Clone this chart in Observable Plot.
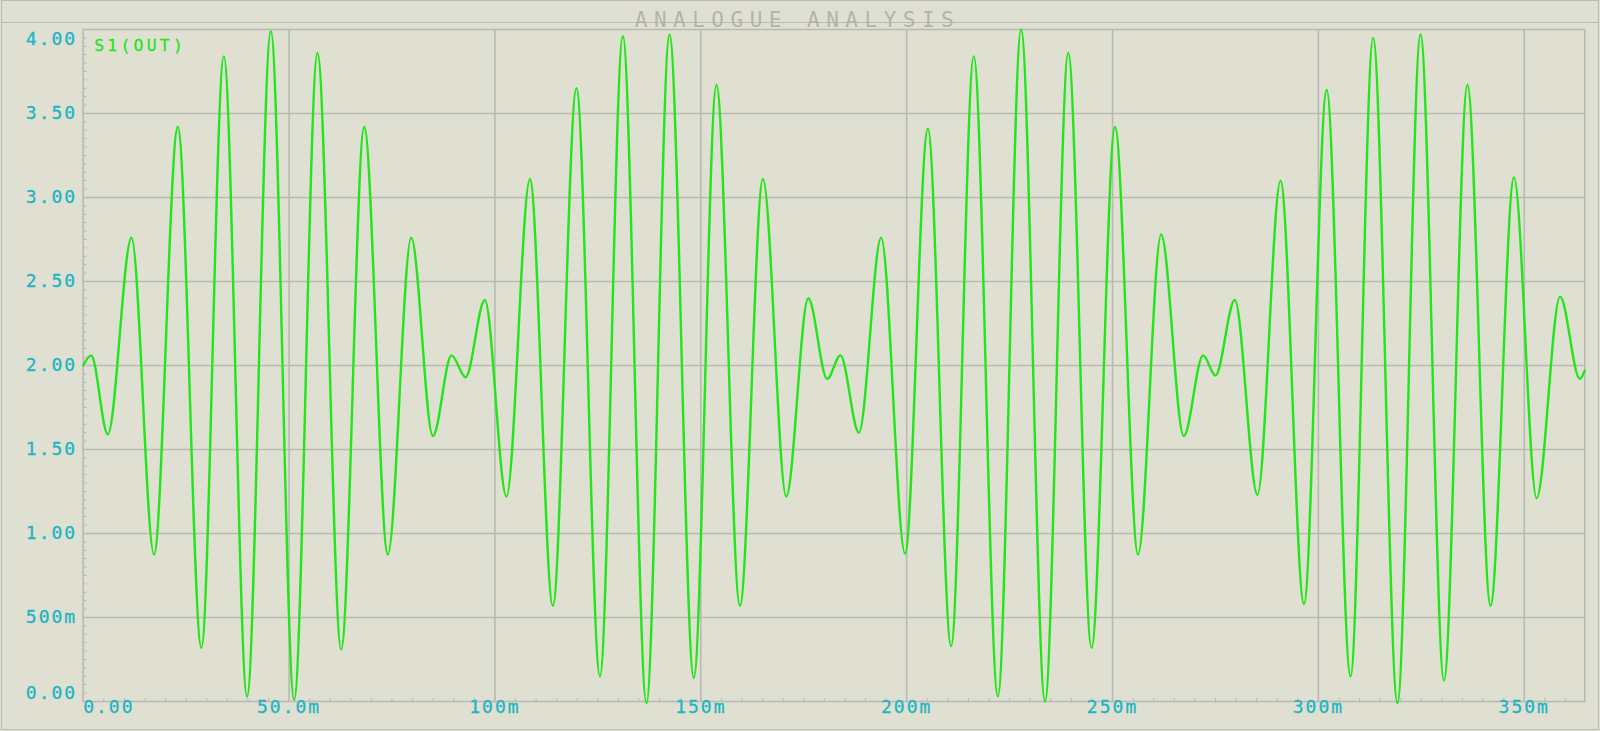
<!DOCTYPE html>
<html>
<head>
<meta charset="utf-8">
<script src="https://cdn.jsdelivr.net/npm/d3@7"></script>
<script src="https://cdn.jsdelivr.net/npm/@observablehq/plot@0.6"></script>
<style>
  html, body { margin: 0; padding: 0; background: #e0e0d2; }
  #wrap { position: relative; width: 1600px; height: 731px; overflow: hidden; background: #e0e0d2; }
  #border { position: absolute; left: 1px; top: 0px; width: 1598px; height: 730px; box-sizing: border-box; border: 1.5px solid #bcbcb7; }
  #band { position: absolute; left: 1px; width: 1598px; top: 22px; height: 0; border-top: 1.5px solid #bcbcb7; }
  #chart { position: absolute; left: 0; top: 0; }
  #chart svg text { letter-spacing: 2px; }
</style>
</head>
<body>
<div id="wrap"><div id="border"></div><div id="band"></div><div id="chart"></div></div>
<script>
// ---- Data (extrema of the trace) ----
const timeMs = [0, 1.94, 5.98, 11.73, 17.2, 22.98, 28.7, 34.16, 39.8, 45.57, 51.24, 56.9, 62.66, 68.25, 73.99,
  79.67, 84.93, 89.46, 92.86, 97.55, 102.8, 108.5, 114.07, 119.8, 125.5, 131.07, 136.8, 142.4, 148.3, 153.8,
  159.5, 165.1, 170.75, 176.1, 180.7, 183.9, 188.4, 193.8, 199.6, 205.15, 210.8, 216.3, 222.15, 227.8, 233.6,
  239.25, 244.9, 250.6, 256.2, 261.8, 267.3, 272.0, 275.0, 279.7, 285.2, 290.8, 296.5, 302.0, 307.8, 313.3,
  319.2, 324.8, 330.5, 336.2, 341.8, 347.5, 353.0, 358.7, 363.5, 364.7];
const voltage = [2.00, 2.06, 1.59, 2.76, 0.875, 3.42, 0.32, 3.84, 0.03, 3.99, 0.01, 3.86, 0.31, 3.42, 0.875,
  2.76, 1.58, 2.06, 1.93, 2.39, 1.22, 3.11, 0.57, 3.65, 0.15, 3.96, -0.01, 3.97, 0.14, 3.67,
  0.57, 3.11, 1.22, 2.40, 1.92, 2.06, 1.60, 2.76, 0.88, 3.41, 0.33, 3.84, 0.03, 4.0, 0.0,
  3.86, 0.32, 3.42, 0.875, 2.78, 1.58, 2.06, 1.94, 2.39, 1.23, 3.10, 0.58, 3.64, 0.15, 3.95,
  -0.01, 3.97, 0.125, 3.67, 0.57, 3.12, 1.21, 2.41, 1.92, 1.97];

const xTicks = [0, 50, 100, 150, 200, 250, 300, 350];
const xTickLabels = ["0.00", "50.0m", "100m", "150m", "200m", "250m", "300m", "350m"];
const yTicks = [0, 0.5, 1, 1.5, 2, 2.5, 3, 3.5, 4];
const yTickLabels = ["0.00", "500m", "1.00", "1.50", "2.00", "2.50", "3.00", "3.50", "4.00"];
const xMinorStep = 5;
const yMinorStep = 0.05;
const xMax = 364.7;
const title = "ANALOGUE ANALYSIS";
const traceName = "S1(OUT)";

// ---- Styles ----
const W = 1600, H = 731;
const mL = 82.7, mR = 15.7, mT = 29, mB = 30;
const gridColor = "#b9b9b6";
const labelColor = "#22b4c2";
const traceColor = "#22e61a";
const titleColor = "#b3b3ac";
const font = "'DejaVu Sans Mono', 'Liberation Mono', monospace";

const data = timeMs.map((t, i) => ({t, v: voltage[i]}));
const xLab = xTicks.map((x, i) => ({x, label: xTickLabels[i]}));
const yLab = yTicks.map((y, i) => ({y, label: yTickLabels[i]}));
const xMinor = d3.range(xMinorStep, xMax, xMinorStep);
const yMinor = d3.range(1, Math.round(4 / yMinorStep)).map(k => k * yMinorStep);

const chart = Plot.plot({
  width: W, height: H,
  marginLeft: mL, marginRight: mR, marginTop: mT, marginBottom: mB,
  style: {background: "transparent", fontFamily: font, overflow: "visible"},
  x: {domain: [0, xMax], axis: null},
  y: {domain: [0, 4], axis: null},
  marks: [
    Plot.gridX(xTicks.slice(1), {stroke: gridColor, strokeOpacity: 1, strokeWidth: 1.6}),
    Plot.gridY(yTicks.slice(1, -1), {stroke: gridColor, strokeOpacity: 1, strokeWidth: 1.6}),
    Plot.frame({stroke: gridColor, strokeWidth: 1.6}),
    Plot.axisY(yMinor, {anchor: "left", tickSize: -4, fill: "none", stroke: gridColor, label: null}),
    Plot.axisX(xMinor, {anchor: "bottom", tickSize: -3, fill: "none", stroke: gridColor, label: null}),
    Plot.line(data, {x: "t", y: "v", curve: "monotone-x", stroke: traceColor, strokeWidth: 2.4}),
    // y labels
    Plot.text(yLab.slice(1, -1), {y: "y", text: "label", frameAnchor: "left", dx: -6, textAnchor: "end", fill: labelColor, fontSize: 18, stroke: labelColor, strokeWidth: 0.3}),
    Plot.text(yLab.slice(-1), {y: "y", text: "label", frameAnchor: "left", dx: -6, dy: 10, textAnchor: "end", fill: labelColor, fontSize: 18, stroke: labelColor, strokeWidth: 0.3}),
    Plot.text(yLab.slice(0, 1), {y: "y", text: "label", frameAnchor: "left", dx: -6, dy: -8, textAnchor: "end", fill: labelColor, fontSize: 18, stroke: labelColor, strokeWidth: 0.3}),
    // x labels
    Plot.text(xLab.slice(1), {x: "x", text: "label", frameAnchor: "bottom", dy: 11, textAnchor: "middle", fill: labelColor, fontSize: 18, stroke: labelColor, strokeWidth: 0.3}),
    Plot.text(xLab.slice(0, 1), {x: "x", text: "label", frameAnchor: "bottom", dy: 11, textAnchor: "start", fill: labelColor, fontSize: 18, stroke: labelColor, strokeWidth: 0.3}),
    // trace name
    Plot.text([traceName], {frameAnchor: "top-left", dx: 11, dy: 10, textAnchor: "start", fill: traceColor, fontSize: 16.5, stroke: traceColor, strokeWidth: 0.3}),
    // title
    Plot.text([title], {frameAnchor: "top-left", dx: 797 - mL, dy: -17, textAnchor: "middle", fill: titleColor, fontSize: 21})
  ]
});
document.getElementById("chart").appendChild(chart);
// letter spacing tweaks
const texts = chart.querySelectorAll("text");
texts.forEach(t => {
  if (t.textContent === title) t.style.letterSpacing = "6.5px";
  else if (t.textContent === traceName) t.style.letterSpacing = "3.2px";
});
</script>
</body>
</html>
